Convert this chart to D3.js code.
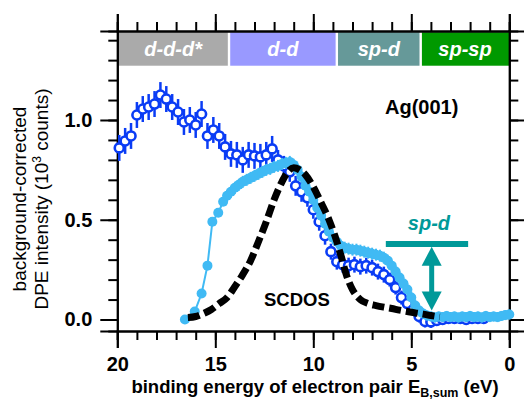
<!DOCTYPE html>
<html><head><meta charset="utf-8">
<script src="https://cdn.jsdelivr.net/npm/d3@7"></script>
<style>
html,body{margin:0;padding:0;background:#fff;}
svg{display:block;font-family:"Liberation Sans",Arial,sans-serif;}
</style></head>
<body>
<svg id="chart" width="524" height="402"></svg>
<script>
// ---------- data ----------
const darkE = [19.9,19.6,19.3,19.0,18.7,18.4,18.1,17.8,17.5,17.2,16.9,16.6,16.3,16.0,15.7,15.4,15.1,14.8,14.5,14.2,13.9,13.6,13.3,13.0,12.7,12.4,12.1,11.8,11.5,11.2,10.9,10.6,10.3,10.0,9.7,9.4,9.1,8.8,8.5,8.2,7.9,7.6,7.3,7.0,6.7,6.4,6.1,5.8,5.5,5.2,4.9,4.6,4.3,4.0,3.7,3.4,3.1,2.8,2.5,2.2,1.9,1.6,1.3];
const darkV = [0.86,0.895,0.92,1.025,1.055,1.065,1.08,1.125,1.105,1.065,1.04,0.99,1.0,0.975,1.03,0.92,0.95,0.92,0.865,0.83,0.825,0.80,0.825,0.82,0.815,0.825,0.855,0.80,0.77,0.74,0.67,0.64,0.61,0.55,0.49,0.42,0.34,0.29,0.275,0.27,0.275,0.265,0.27,0.26,0.24,0.225,0.20,0.16,0.11,0.08,0.05,0.015,-0.01,-0.012,-0.005,0.0,0.005,0.005,0.005,0.0,0.005,0.005,0.005];
const darkErr = [0.065,0.065,0.065,0.065,0.065,0.065,0.065,0.065,0.065,0.065,0.065,0.065,0.065,0.065,0.065,0.065,0.065,0.065,0.065,0.065,0.065,0.065,0.065,0.065,0.065,0.065,0.065,0.05,0.05,0.05,0.05,0.05,0.045,0.045,0.045,0.045,0.04,0.04,0.04,0.04,0.04,0.04,0.04,0.04,0.04,0.04,0.035,0.035,0.035,0.035,0.03,0.03,0.03,0.03,0.02,0.02,0.02,0.02,0.02,0.02,0.02,0.02,0.02];

const lightE = [16.55,16.05,15.7,15.4,15.15,14.85,14.6,14.4,14.2,14.0,13.8,13.6,13.4,13.2,13.0,12.8,12.6,12.4,12.2,12.0,11.8,11.6,11.4,11.2,11.0,10.8,10.6,10.4,10.2,10.0,9.8,9.6,9.4,9.2,9.0,8.8,8.6,8.4,8.2,8.0,7.8,7.6,7.4,7.2,7.0,6.8,6.6,6.4,6.2,6.0,5.8,5.6,5.4,5.2,5.0,4.8,4.6,4.4,4.2,4.0,3.8,3.6,3.4,3.2,3.0,2.8,2.6,2.4,2.2,2.0,1.8,1.6,1.4,1.2,1.0,0.8,0.6,0.4,0.2,0.0];
const lightV = [0.0,0.04,0.13,0.27,0.49,0.535,0.59,0.62,0.64,0.66,0.675,0.69,0.70,0.71,0.72,0.73,0.74,0.75,0.755,0.765,0.77,0.78,0.785,0.79,0.775,0.75,0.715,0.67,0.64,0.60,0.56,0.52,0.48,0.44,0.41,0.39,0.37,0.36,0.355,0.35,0.35,0.345,0.34,0.335,0.33,0.325,0.32,0.31,0.295,0.27,0.24,0.21,0.18,0.15,0.11,0.07,0.045,0.03,0.02,0.015,0.01,0.015,0.012,0.018,0.012,0.015,0.01,0.015,0.012,0.018,0.012,0.015,0.01,0.018,0.012,0.015,0.012,0.018,0.022,0.025];
const lightErr = [0.015,0.015,0.015,0.015,0.015,0.015,0.02,0.03,0.03,0.03,0.03,0.03,0.03,0.03,0.03,0.03,0.03,0.03,0.03,0.03,0.03,0.03,0.03,0.03,0.03,0.03,0.03,0.03,0.03,0.03,0.03,0.03,0.03,0.03,0.03,0.03,0.03,0.03,0.03,0.03,0.03,0.03,0.03,0.03,0.03,0.03,0.03,0.03,0.03,0.03,0.03,0.03,0.03,0.03,0.03,0.03,0.03,0.025,0.025,0.025,0.025,0.025,0.025,0.025,0.025,0.025,0.025,0.025,0.025,0.025,0.025,0.025,0.025,0.025,0.025,0.025,0.025,0.025,0.025,0.025];

const scdosE = [16.4,16.0,15.6,15.2,14.8,14.4,14.0,13.6,13.2,12.8,12.4,12.0,11.6,11.3,11.0,10.7,10.4,10.0,9.6,9.2,8.9,8.6,8.3,8.0,7.6,7.2,6.8,6.4,6.0,5.6,5.2,4.8,4.4,4.0,3.55];
const scdosV = [0.01,0.015,0.03,0.05,0.08,0.11,0.165,0.225,0.295,0.39,0.49,0.60,0.69,0.74,0.76,0.75,0.725,0.665,0.585,0.50,0.42,0.325,0.22,0.15,0.10,0.08,0.07,0.062,0.055,0.047,0.04,0.033,0.027,0.02,0.013];

const bandNames = ["d-d-d*","d-d","sp-d","sp-sp"];
const bandEdges = [20,14.3,8.8,4.52,0];
const bandColors = ["#aaaaaa","#9999ff","#669999","#009900"];
const bandRange = [1.272,1.44];

const xMajor = [20,15,10,5,0];
const xMinor = [20,19,18,17,16,15,14,13,12,11,10,9,8,7,6,5,4,3,2,1,0];
const yMajor = [0,0.5,1.0];
const yMinor = [0,0.1,0.2,0.3,0.4,0.5,0.6,0.7,0.8,0.9,1.0,1.1,1.2,1.3,1.4];

const spdBarE = [6.3,2.1], spdBarV = 0.378;
const spdArrowE = 3.96, spdArrowV = [0.365,0.045];

// ---------- chart ----------
const svg = d3.select("#chart");
const x = d3.scaleLinear().domain([20,0]).range([117.3,509.3]);
const y = d3.scaleLinear().domain([-0.0576,1.446]).range([331,31]);
const FONT = '"Liberation Sans",Arial,sans-serif';

// bands
const bands = bandNames.map((n,i)=>({n, e0:bandEdges[i], e1:bandEdges[i+1], c:bandColors[i], i}));
svg.selectAll("rect.band").data(bands).enter().append("rect")
  .attr("x", d=>x(d.e0)+(d.i===0?0:1.2))
  .attr("width", d=>x(d.e1)-x(d.e0)-(d.i===0?1.2:(d.i===3?1.2:2.4)))
  .attr("y", y(bandRange[1])).attr("height", y(bandRange[0])-y(bandRange[1]))
  .attr("fill", d=>d.c);
svg.selectAll("text.band").data(bands).enter().append("text")
  .attr("x", d=>(x(d.e0)+x(d.e1))/2).attr("y", (y(bandRange[0])+y(bandRange[1]))/2+7)
  .attr("text-anchor","middle").attr("fill","#fff")
  .attr("font-size",20).attr("font-weight","bold").attr("font-style","italic")
  .text(d=>d.n);

// axes
function styleAxis(g){ g.selectAll("path.domain").attr("stroke","#000").attr("stroke-width",2);
  g.selectAll(".tick line").attr("stroke","#000").attr("stroke-width",2); }
const gx = svg.append("g").attr("transform",`translate(0,${y.range()[0]})`);
gx.append("g").call(d3.axisBottom(x).tickValues(xMinor).tickSize(9).tickFormat("")).call(styleAxis);
gx.append("g").call(d3.axisBottom(x).tickValues(xMajor).tickSize(17).tickPadding(9).tickFormat(d3.format("d"))).call(styleAxis)
  .selectAll("text").attr("font-size",20).attr("font-weight","bold").attr("font-family",FONT).attr("fill","#000");
const gt = svg.append("g").attr("transform",`translate(0,${y.range()[1]})`);
gt.append("g").call(d3.axisTop(x).tickValues(xMinor).tickSize(9).tickFormat("")).call(styleAxis);
gt.append("g").call(d3.axisTop(x).tickValues(xMajor).tickSize(17).tickFormat("")).call(styleAxis);
const gy = svg.append("g").attr("transform",`translate(${x.range()[0]},0)`);
gy.append("g").call(d3.axisLeft(y).tickValues(yMinor).tickSize(9).tickFormat("")).call(styleAxis);
gy.append("g").call(d3.axisLeft(y).tickValues(yMajor).tickSize(17).tickPadding(8).tickFormat(d3.format(".1f"))).call(styleAxis)
  .selectAll("text").attr("font-size",20).attr("font-weight","bold").attr("font-family",FONT).attr("fill","#000");
const gr = svg.append("g").attr("transform",`translate(${x.range()[1]},0)`);
gr.append("g").call(d3.axisRight(y).tickValues(yMinor).tickSize(9).tickFormat("")).call(styleAxis);
gr.append("g").call(d3.axisRight(y).tickValues(yMajor).tickSize(17).tickFormat("")).call(styleAxis);

// dark blue series
const dark = darkE.map((e,i)=>({e, v:darkV[i], err:darkErr[i]}));
const DARK = "#0a3cf5";
const gd = svg.append("g");
gd.selectAll("line").data(dark).enter().append("line")
  .attr("x1",d=>x(d.e)).attr("x2",d=>x(d.e))
  .attr("y1",d=>y(d.v-d.err)).attr("y2",d=>y(d.v+d.err))
  .attr("stroke",DARK).attr("stroke-width",2.5);
gd.selectAll("circle").data(dark).enter().append("circle")
  .attr("cx",d=>x(d.e)).attr("cy",d=>y(d.v)).attr("r",4.5)
  .attr("fill","#fff").attr("stroke",DARK).attr("stroke-width",2.6);

// light blue series
const light = lightE.map((e,i)=>({e, v:lightV[i], err:lightErr[i]}));
const LIGHT = "#40baf4";
const gl = svg.append("g");
gl.append("path").datum(light)
  .attr("d", d3.line().x(d=>x(d.e)).y(d=>y(d.v)))
  .attr("fill","none").attr("stroke",LIGHT).attr("stroke-width",2);
gl.selectAll("line").data(light).enter().append("line")
  .attr("x1",d=>x(d.e)).attr("x2",d=>x(d.e))
  .attr("y1",d=>y(d.v-d.err)).attr("y2",d=>y(d.v+d.err))
  .attr("stroke",LIGHT).attr("stroke-width",2);
gl.selectAll("circle").data(light).enter().append("circle")
  .attr("cx",d=>x(d.e)).attr("cy",d=>y(d.v)).attr("r",5)
  .attr("fill",LIGHT);

// SCDOS dashed
const scdos = scdosE.map((e,i)=>({e, v:scdosV[i]}));
svg.append("path").datum(scdos)
  .attr("d", d3.line().x(d=>x(d.e)).y(d=>y(d.v)).curve(d3.curveMonotoneX))
  .attr("fill","none").attr("stroke","#000").attr("stroke-width",7)
  .attr("stroke-dasharray","12,5");

// sp-d annotation
const TEAL = "#009999";
svg.append("line").attr("x1",x(spdBarE[0])).attr("x2",x(spdBarE[1]))
  .attr("y1",y(spdBarV)).attr("y2",y(spdBarV)).attr("stroke",TEAL).attr("stroke-width",6);
const ax = x(spdArrowE), ay0 = y(spdArrowV[0]), ay1 = y(spdArrowV[1]);
svg.append("line").attr("x1",ax).attr("x2",ax).attr("y1",ay0+10).attr("y2",ay1-10)
  .attr("stroke",TEAL).attr("stroke-width",5);
svg.append("path").attr("d",`M${ax},${ay0} L${ax-10},${ay0+19} L${ax+10},${ay0+19} Z`).attr("fill",TEAL);
svg.append("path").attr("d",`M${ax},${ay1} L${ax-10},${ay1-19} L${ax+10},${ay1-19} Z`).attr("fill",TEAL);
svg.append("text").attr("x",(x(spdBarE[0])+x(spdBarE[1]))/2+2).attr("y",230)
  .attr("text-anchor","middle").attr("fill",TEAL).attr("font-size",20)
  .attr("font-weight","bold").attr("font-style","italic").text("sp-d");

// labels
svg.append("text").attr("x",385).attr("y",114).attr("font-size",20).attr("font-weight","bold").text("Ag(001)");
svg.append("text").attr("x",264).attr("y",306).attr("font-size",18.5).attr("font-weight","bold").text("SCDOS");

const xt = svg.append("text").attr("x",315).attr("y",393).attr("text-anchor","middle")
  .attr("font-size",18.5).attr("font-weight","bold");
xt.append("tspan").text("binding energy of electron pair E");
xt.append("tspan").attr("font-size",12.5).attr("dy",4).text("B,sum");
xt.append("tspan").attr("dy",-4).text(" (eV)");

const yl = svg.append("g").attr("transform","translate(0,199) rotate(-90)");
yl.append("text").attr("x",0).attr("y",26).attr("text-anchor","middle").attr("font-size",19).text("background-corrected");
const yl2 = yl.append("text").attr("x",0).attr("y",48).attr("text-anchor","middle").attr("font-size",19);
yl2.append("tspan").text("DPE intensity (10");
yl2.append("tspan").attr("font-size",12).attr("dy",-7).text("3");
yl2.append("tspan").attr("dy",7).text(" counts)");
</script>
</body></html>
